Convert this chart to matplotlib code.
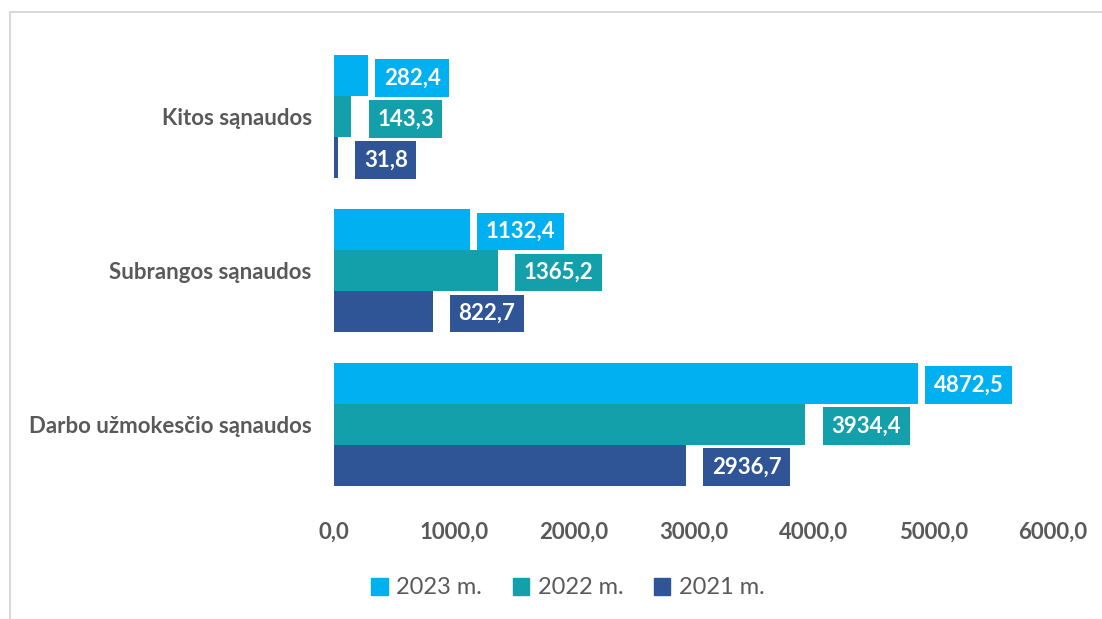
import numpy as np
import matplotlib
matplotlib.use('Agg')
import matplotlib.pyplot as plt
from matplotlib.patches import Rectangle, Patch

# data, bottom category first
categories = ['Darbo užmokesčio sąnaudos', 'Subrangos sąnaudos', 'Kitos sąnaudos']
series = ['2023 m.', '2022 m.', '2021 m.']
vals2023 = [4872.5, 1132.4, 282.4]
vals2022 = [3934.4, 1365.2, 143.3]
vals2021 = [2936.7, 822.7, 31.8]
xticks = [0, 1000, 2000, 3000, 4000, 5000, 6000]

colors = ['#00B0F0', '#14A0AB', '#2F5597']
gaps = [8, 18, 18]  # label offset from bar end, px
grey = '#595959'

plt.rcParams['font.family'] = ['Lato', 'DejaVu Sans']

fig = plt.figure(figsize=(11.02, 6.19), dpi=100)
# light frame of the chart area
fig.patches.append(Rectangle((10/1102, -0.1), 1.2, 1-12/619+0.1, transform=fig.transFigure,
                             fill=False, edgecolor='#D9D9D9', linewidth=1.5))
ax = fig.add_axes([334/1102, 1-501/619, (1053-334)/1102, (501-40)/619])

y = np.arange(len(categories))
h = 0.8/3
allVals = [vals2023, vals2022, vals2021]
for k, vals in enumerate(allVals):
  pos = y + h - k*h
  ax.barh(pos, vals, height=h, color=colors[k], label=series[k])
  for p, v in zip(pos, vals):
    lab = ('%.1f' % v).replace('.', ',')
    ax.annotate(lab, xy=(v, p), xytext=(gaps[k]+8, -2), textcoords='offset pixels',
                ha='left', va='center', color='white', fontsize=16, fontweight='bold',
                bbox=dict(boxstyle='square,pad=0.38', fc=colors[k], ec='none'))

ax.set_xlim(0, 6000)
ax.set_ylim(-0.5, 2.5)
ax.set_yticks(y)
ax.set_yticklabels(categories, fontsize=16, fontweight='bold', color=grey)
ax.set_xticks(xticks)
ax.set_xticklabels([('%.1f' % t).replace('.', ',') for t in xticks],
                   fontsize=16, fontweight='bold', color=grey)
ax.tick_params(axis='both', length=0)
ax.tick_params(axis='x', pad=15)
ax.tick_params(axis='y', pad=16)
for s in ax.spines.values():
  s.set_visible(False)

handles = [Patch(color=c) for c in colors]
fig.legend(handles, series, loc='center', bbox_to_anchor=(568/1102, 1-588/619), ncol=3,
           frameon=False, fontsize=17, labelcolor=grey, handlelength=0.7, handleheight=0.7,
           handletextpad=0.35, columnspacing=1.3)

fig.savefig('out.png', dpi=100)
